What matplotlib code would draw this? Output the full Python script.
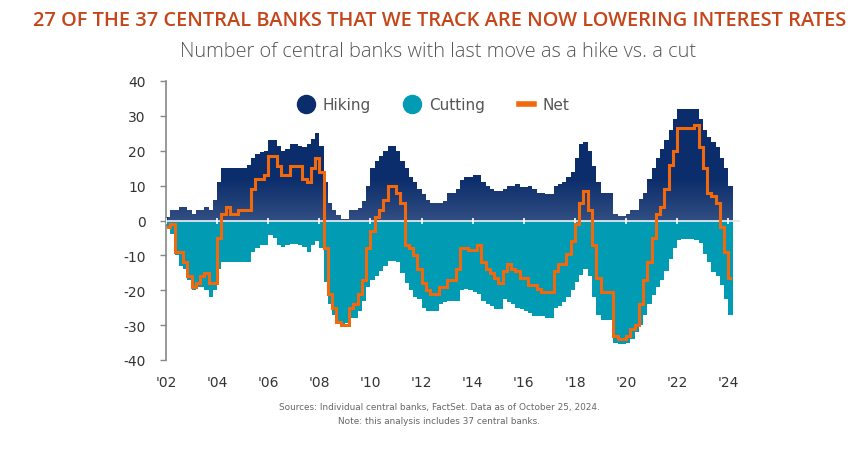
import numpy as np
import pandas as pd
import matplotlib
matplotlib.use("Agg")
import matplotlib.pyplot as plt
from matplotlib.lines import Line2D

plt.rcParams["axes.unicode_minus"] = False

# two-monthly readings, Feb 2002 .. Feb 2024 (chart time axis)
start = "2002-02"
hiking = [1, 3, 3, 4, 4, 3, 2, 3, 3, 4, 3, 6, 11, 15, 15, 15, 15, 15, 15, 16,
          18, 19, 19.5, 20, 23, 23, 21.5, 20, 20.5, 22, 22, 21.5, 21, 22, 23.5, 25,
          21.5, 11, 5, 3, 1.5, 0.4, 0.5, 3, 3, 3.5, 5.5, 10, 15, 17, 18.5, 20,
          21.5, 21.5, 20, 17, 15, 12.5, 11, 9, 7.5, 6, 5, 5, 5, 5.5, 8, 8,
          9, 11.5, 12.5, 12.5, 13, 13, 11, 10, 9, 8.5, 8.5, 9, 10, 10, 10.5,
          9.5, 9.5, 10, 9, 8, 8, 7.5, 7.5, 10, 10.5, 11, 12.5, 14, 18, 22, 22.5,
          20, 15.5, 11, 8, 8, 8, 2, 1.2, 1.2, 2, 3, 3, 6.3, 8, 12, 15, 18, 20.5,
          23, 26, 29, 32, 32, 32, 32, 32, 29, 26, 24, 22.5, 21, 18, 15, 10]
cutting = [-2, -4, -10, -13, -14, -17, -20, -19, -19, -20, -22, -20, -14, -12, -12,
           -12, -12, -12, -12, -12, -9, -8, -7, -7, -4.2, -5, -7, -7.5, -7, -6.6,
           -6.6, -7, -7.5, -9, -7, -6, -8, -17.5, -24, -27, -29, -30.5, -29.5,
           -28, -28, -26, -23, -19, -17, -16, -14.5, -13, -11.5, -11.5, -12, -15,
           -18, -20, -22, -22.5, -25, -26, -26, -26, -24, -23.5, -23, -23, -23,
           -20, -19.5, -20, -20.5, -21, -23, -24, -24.5, -25.5, -25.5, -22.5,
           -23.5, -24, -25, -25.5, -26, -26.5, -27.5, -27.5, -27.5, -28, -28, -25,
           -24.5, -23.5, -22, -20, -17.5, -15.5, -14, -16, -22, -27, -28.5, -28.5,
           -28.5, -35, -35.5, -35.5, -35, -34, -32, -30, -27, -24, -21.5, -19, -17,
           -14.5, -11, -8, -5.5, -5.2, -5.2, -5.2, -5.5, -6.5, -9.5, -12, -14.7,
           -16, -18.5, -22.5, -27]
net = [-2, -1, -9, -9, -12, -16, -19, -18, -16, -15, -18, -18, -5, 2, 4, 2, 2, 3,
       3, 3, 9, 12, 12, 13, 18.5, 18.5, 15.5, 13, 13, 15.5, 15.5, 15.5, 12, 11,
       15, 18, 14, -8, -21, -25, -29, -30, -30, -25, -24, -21, -17, -8, -3, 1, 3,
       6, 10, 10, 8, 5, -7, -8, -10, -14, -18, -20, -21, -21, -19, -19, -17, -17,
       -14, -8, -8, -8.5, -8.5, -7, -12, -14, -15, -16.5, -18, -14.5, -12.5, -14,
       -14.5, -16.5, -16.5, -18.5, -18.5, -19.5, -20.5, -20.4, -20.4, -14.5,
       -12.5, -12.5, -9.5, -6, -1, 5, 8.5, 3, -7, -16.5, -20.4, -20.4, -20.4, -33,
       -34, -34, -33, -31, -30, -24, -17, -12, -5, 2, 4, 9, 16, 20, 26.5, 26.5,
       26.5, 26.5, 27.5, 21, 15, 8, 7, 5, -2, -9, -16.5]
year_ticks = list(range(2002, 2025, 2))
tick_labels = ["'%02d" % (y % 100) for y in year_ticks]

c_hike = "#0b2d6b"
c_cut = "#019bb4"
c_net = "#f2680c"
c_text = "#555555"

dates = pd.date_range(start, periods=len(net), freq="2MS")
t = dates.year + (dates.month - 1) / 12.0

fig = plt.figure(figsize=(8.65, 4.52), dpi=100)
ax = fig.add_axes([166 / 865, 1 - 361 / 452, 574 / 865, 279 / 452])
x0, x1 = 2002.078, 2024.456

ax.bar(t, hiking, width=1 / 6, color=c_hike, linewidth=0, zorder=2)
ax.bar(t, cutting, width=1 / 6, color=c_cut, linewidth=0, zorder=2)

# lighter shading of the hiking bars near the zero line (white on white is invisible)
grad = np.zeros((64, 2, 4))
grad[..., :3] = 1.0
grad[..., 3] = np.linspace(0, 0.16, 64)[:, None]
ax.imshow(grad, extent=[x0, x1, 0, 12], origin="upper", aspect="auto",
          interpolation="bilinear", zorder=2.5)

ax.axhline(0, color="#dfe8f0", lw=1.3, zorder=3)
ax.plot(year_ticks, [0] * len(year_ticks), ls="none", marker="|", ms=5,
        mew=1.2, color="white", zorder=3)
ax.step(t, net, where="mid", color=c_net, lw=2.2, zorder=4,
        solid_joinstyle="miter")

ax.set_xlim(x0, x1)
ax.set_ylim(-40, 40)
ax.set_yticks(range(-40, 41, 10))
ax.set_xticks(year_ticks)
ax.set_xticklabels(tick_labels)
ax.tick_params(axis="x", length=0, pad=11, labelsize=10, labelcolor="#333333")
ax.tick_params(axis="y", length=4.5, width=1, color="#888888", pad=10,
               labelsize=10, labelcolor="#333333")
for s in ["top", "right", "bottom"]:
    ax.spines[s].set_visible(False)
ax.spines["left"].set_color("#888888")
ax.spines["left"].set_linewidth(1.2)

handles = [Line2D([], [], ls="none", marker="o", ms=13, color=c_hike),
           Line2D([], [], ls="none", marker="o", ms=13, color=c_cut),
           Line2D([], [], color=c_net, lw=4)]
leg = ax.legend(handles, ["Hiking", "Cutting", "Net"], ncol=3, frameon=False,
                loc="center", bbox_to_anchor=(0.467, 0.914), fontsize=11,
                handlelength=1.0, handletextpad=0.6, columnspacing=2.2,
                labelcolor=c_text)

fig.text(440 / 865, 1 - 21 / 452, "27 OF THE 37 CENTRAL BANKS THAT WE TRACK ARE NOW LOWERING INTEREST RATES",
         ha="center", va="center", fontsize=14.4, fontweight="semibold",
         color="#c4461a", family="Open Sans")
fig.text(438.5 / 865, 1 - 52 / 452, "Number of central banks with last move as a hike vs. a cut",
         ha="center", va="center", fontsize=14.4, fontweight="light",
         color=c_text, family="Open Sans")
fig.text(0.508, 1 - 408 / 452,
         "Sources: Individual central banks, FactSet. Data as of October 25, 2024.",
         ha="center", va="center", fontsize=6.4, color="#666666")
fig.text(0.508, 1 - 422 / 452, "Note: this analysis includes 37 central banks.",
         ha="center", va="center", fontsize=6.4, color="#666666")

fig.savefig("out.png", dpi=100)
